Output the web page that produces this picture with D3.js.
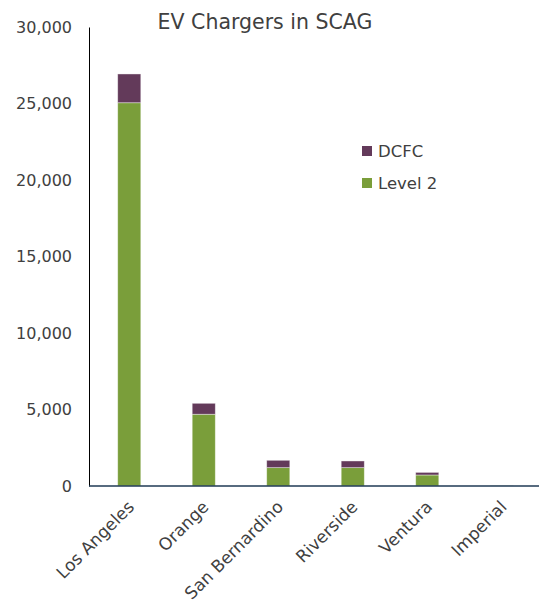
<!DOCTYPE html>
<html><head><meta charset="utf-8">
<script src="https://cdn.jsdelivr.net/npm/d3@7"></script>
<style>body{margin:0;background:#fff}text{font-family:"DejaVu Sans",sans-serif;fill:#404040}</style>
</head><body><svg id="c" width="544" height="608"></svg>
<script>
const categories = ["Los Angeles","Orange","San Bernardino","Riverside","Ventura","Imperial"];
const level2 = [25050, 4690, 1200, 1200, 720, 25];
const dcfc = [1880, 715, 480, 435, 170, 8];
const yTicks = [0,5000,10000,15000,20000,25000,30000];
const seriesNames = ["Level 2","DCFC"];
const colors = {"Level 2":"#7A9E3A","DCFC":"#633A5A"};

const svg = d3.select("#c");
const m = {l:89, r:539, t:27, b:486};
const x = d3.scaleBand().domain(categories).range([92, 539]).paddingInner(0.69).paddingOuter(0.345);
const y = d3.scaleLinear().domain([0,30000]).range([m.b, m.t]);

const rows = categories.map((c,i)=>({cat:c,"Level 2":level2[i],"DCFC":dcfc[i]}));
const stacked = d3.stack().keys(seriesNames)(rows);

svg.append("g").selectAll("g").data(stacked).join("g")
  .attr("fill", d=>colors[d.key])
  .selectAll("rect").data(d=>d).join("rect")
  .attr("x", d=>x(d.data.cat))
  .attr("width", x.bandwidth())
  .attr("y", d=>y(d[1]))
  .attr("height", d=>Math.max(0, y(d[0])-y(d[1])))
  .attr("stroke","#ffffff").attr("stroke-opacity",0.5).attr("stroke-width",0.8);

// y axis
const ya = svg.append("g").attr("transform",`translate(${m.l},0)`)
  .call(d3.axisLeft(y).tickValues(yTicks).tickFormat(d3.format(",")).tickSize(0).tickPadding(17));
ya.select(".domain").attr("stroke","#000").attr("stroke-width",1);
ya.selectAll("text").style("font-size","16px").attr("fill","#404040");

// x axis
const xa = svg.append("g").attr("transform",`translate(0,${m.b})`)
  .call(d3.axisBottom(x).tickSize(0).tickSizeOuter(0));
xa.select(".domain").remove();
xa.append("line").attr("x1",m.l).attr("x2",m.r).attr("stroke","#1F3A55").attr("stroke-width",1.5);
xa.selectAll(".tick text").style("font-size","17px").attr("fill","#404040")
  .attr("text-anchor","end").attr("dy",null).attr("y",0)
  .attr("transform","translate(6,22) rotate(-45)");

// title
svg.append("text").attr("x",265).attr("y",29).attr("text-anchor","middle")
  .style("font-size","20.5px").text("EV Chargers in SCAG");

// legend
const leg = svg.append("g").selectAll("g").data(["DCFC","Level 2"]).join("g")
  .attr("transform",(d,i)=>`translate(362,${146+i*32})`);
leg.append("rect").attr("width",10).attr("height",10).attr("fill",d=>colors[d]);
leg.append("text").attr("x",16).attr("y",11).style("font-size","16.5px").text(d=>d);
</script></body></html>
